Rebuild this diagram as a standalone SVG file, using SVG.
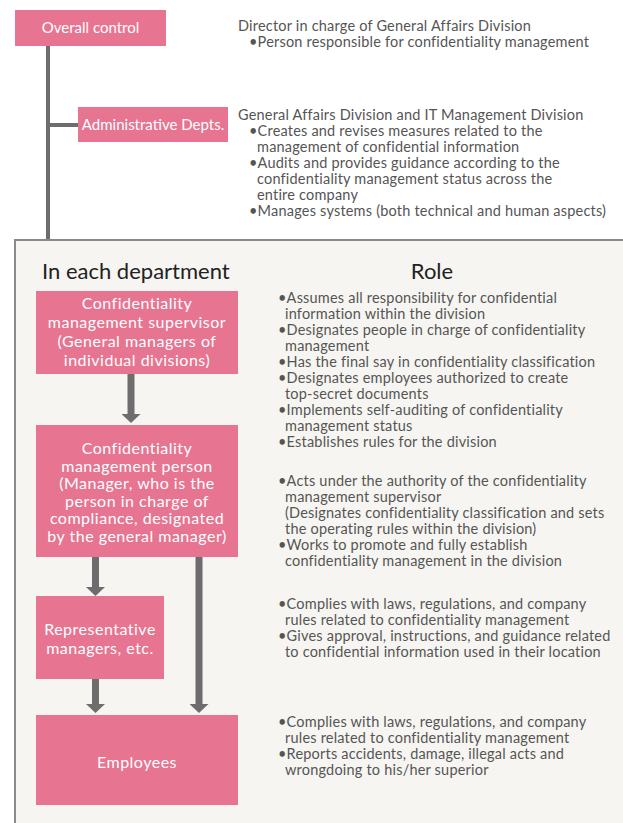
<svg xmlns="http://www.w3.org/2000/svg" width="623" height="823" viewBox="0 0 623 823">
<style>
.box{fill:#e77491}
.bt{font-family:Lato,"Liberation Sans",sans-serif;font-size:16px;letter-spacing:0.5px;fill:#ffffff;text-anchor:middle}
.tt{font-family:Lato,"Liberation Sans",sans-serif;font-size:15px;fill:#ffffff;text-anchor:middle}
.rt{font-family:Lato,"Liberation Sans",sans-serif;font-size:14.5px;letter-spacing:0.2px;fill:#555555}
.hd{font-family:Lato,"Liberation Sans",sans-serif;font-size:22px;fill:#222222}
.ln{stroke:#6d6d6d;stroke-width:4;fill:none}
.ar{stroke:#6d6d6d;stroke-width:7;fill:none;marker-end:url(#ah)}
</style>
<defs>
<marker id="ah" viewBox="0 0 9 19" refX="0" refY="9.5" markerWidth="9" markerHeight="19" markerUnits="userSpaceOnUse" orient="auto">
<path d="M0,0 L9,9.5 L0,19 z" fill="#6d6d6d"/>
</marker>
</defs>
<rect x="0" y="0" width="623" height="823" fill="#ffffff"/>
<rect id="panel" x="15" y="240" width="620" height="600" fill="#f6f5f1" stroke="#8a8a8a" stroke-width="2"/>
<g id="connectors">
<line class="ln" x1="48" y1="45" x2="48" y2="239"/>
<line class="ln" x1="48" y1="125" x2="78" y2="125"/>
<line class="ar" x1="131" y1="374" x2="131" y2="414"/>
<line class="ar" x1="95.5" y1="557" x2="95.5" y2="587"/>
<line class="ar" x1="199" y1="557" x2="199" y2="704"/>
<line class="ar" x1="95.5" y1="679" x2="95.5" y2="704"/>
</g>
<g id="overall">
<rect class="box" x="15" y="10" width="151" height="36"/>
<text class="tt" x="90.5" y="33">Overall control</text>
</g>
<g id="overall-desc" class="rt">
<text x="238" y="31">Director in charge of General Affairs Division</text>
<text x="249" y="47">•Person responsible for confidentiality management</text>
</g>
<g id="admin">
<rect class="box" x="78" y="107" width="150" height="35"/>
<text class="tt" x="153" y="130">Administrative Depts.</text>
</g>
<g id="admin-desc" class="rt">
<text x="238" y="120">General Affairs Division and IT Management Division</text>
<text x="249" y="136">•Creates and revises measures related to the</text>
<text x="257" y="152">management of confidential information</text>
<text x="249" y="168">•Audits and provides guidance according to the</text>
<text x="257" y="184">confidentiality management status across the</text>
<text x="257" y="200">entire company</text>
<text x="249" y="216">•Manages systems (both technical and human aspects)</text>
</g>
<g id="headings" class="hd">
<text x="42" y="279">In each department</text>
<text x="432" y="279" text-anchor="middle">Role</text>
</g>
<g id="supervisor">
<rect class="box" x="36" y="291" width="202" height="83"/>
<text class="bt" x="137" y="309">Confidentiality</text>
<text class="bt" x="137" y="328">management supervisor</text>
<text class="bt" x="137" y="347">(General managers of</text>
<text class="bt" x="137" y="366">individual divisions)</text>
</g>
<g id="supervisor-role" class="rt">
<text x="278" y="302.5">•Assumes all responsibility for confidential</text>
<text x="285" y="318.5">information within the division</text>
<text x="278" y="334.5">•Designates people in charge of confidentiality</text>
<text x="285" y="350.5">management</text>
<text x="278" y="366.5">•Has the final say in confidentiality classification</text>
<text x="278" y="382.5">•Designates employees authorized to create</text>
<text x="285" y="398.5">top-secret documents</text>
<text x="278" y="414.5">•Implements self-auditing of confidentiality</text>
<text x="285" y="430.5">management status</text>
<text x="278" y="446.5">•Establishes rules for the division</text>
</g>
<g id="person">
<rect class="box" x="36" y="425" width="202" height="132"/>
<text class="bt" x="137" y="454">Confidentiality</text>
<text class="bt" x="137" y="471.5">management person</text>
<text class="bt" x="137" y="489">(Manager, who is the</text>
<text class="bt" x="137" y="506.5">person in charge of</text>
<text class="bt" x="137" y="524">compliance, designated</text>
<text class="bt" x="137" y="541.5">by the general manager)</text>
</g>
<g id="person-role" class="rt">
<text x="278" y="486">•Acts under the authority of the confidentiality</text>
<text x="285" y="502">management supervisor</text>
<text x="285" y="518">(Designates confidentiality classification and sets</text>
<text x="285" y="534">the operating rules within the division)</text>
<text x="278" y="550">•Works to promote and fully establish</text>
<text x="285" y="566">confidentiality management in the division</text>
</g>
<g id="representative">
<rect class="box" x="36" y="596" width="128" height="83"/>
<text class="bt" x="100" y="635">Representative</text>
<text class="bt" x="100" y="654">managers, etc.</text>
</g>
<g id="representative-role" class="rt">
<text x="278" y="609">•Complies with laws, regulations, and company</text>
<text x="285" y="625">rules related to confidentiality management</text>
<text x="278" y="641">•Gives approval, instructions, and guidance related</text>
<text x="285" y="657">to confidential information used in their location</text>
</g>
<g id="employees">
<rect class="box" x="36" y="715" width="202" height="90"/>
<text class="bt" x="137" y="768">Employees</text>
</g>
<g id="employees-role" class="rt">
<text x="278" y="727">•Complies with laws, regulations, and company</text>
<text x="285" y="743">rules related to confidentiality management</text>
<text x="278" y="759">•Reports accidents, damage, illegal acts and</text>
<text x="285" y="775">wrongdoing to his/her superior</text>
</g>
</svg>
